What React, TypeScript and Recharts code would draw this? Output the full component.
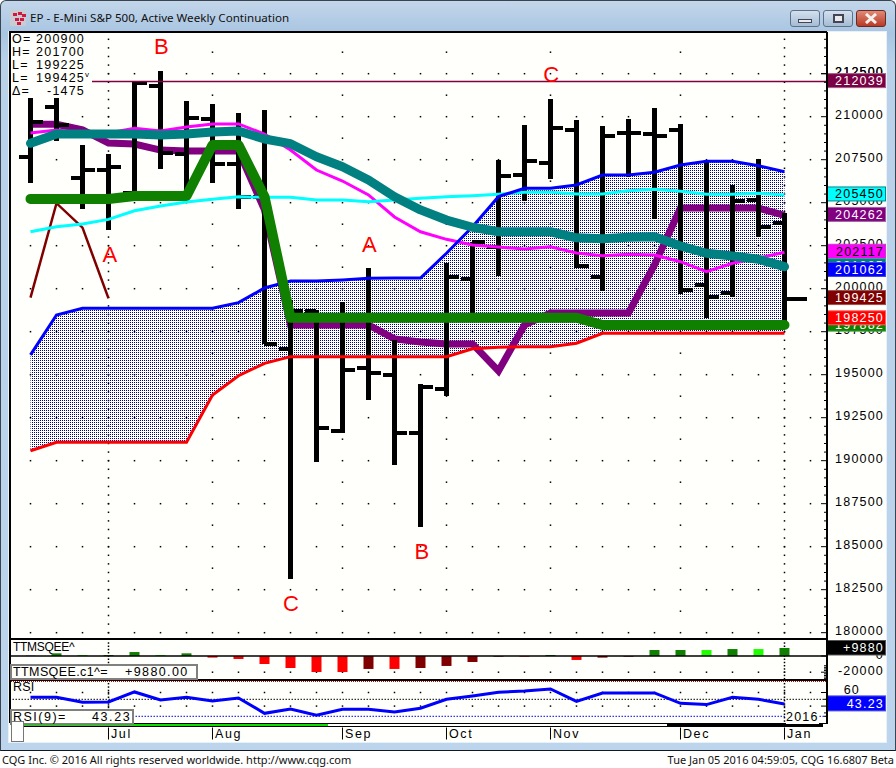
import React from 'react';
import { ComposedChart, Bar, Line, Area, Scatter, XAxis, YAxis, ReferenceLine, Cell } from 'recharts';

const indices = Array.from({ length: 30 }, (_, k) => k);
const highs = [211070,211070,208337,207832,212058,212657,210895,210720,210198,210390,199343,198762,199244,201186,197017,194442,201477,202715,207483,209517,211029,209808,209459,209866,210488,209576,207483,206029,207541,204384];
const lows = [206163,208605,204651,203413,205530,206977,205625,206163,204651,196785,183140,189942,191610,193529,189750,186163,193762,198587,200738,205099,206378,201186,199884,206512,204035,199674,198314,199535,203023,198081];
const opens = [207640,210547,206419,206884,205580,211767,207814,209849,207250,205330,196477,198703,191727,195372,194965,191593,194151,200546,202407,206610,207308,209227,200680,209035,208977,209227,200198,199732,205140,203802];
const closes = [209674,209535,206884,207058,211940,207872,209907,207250,205330,196785,198721,191884,195273,195081,191593,194302,200680,202698,206552,207407,209343,201320,208878,209035,208878,199924,199500,205099,203570,199425];

const purpleLine = [209560,209560,209230,208470,208410,208060,208010,208010,208010,204580,197890,197890,197890,197890,197080,196900,196790,196790,195215,197890,198590,198590,198590,198590,201380,204690,204690,204690,204690,204262];
const magentaLine = [209050,209230,209050,209050,209330,209170,209400,209580,209580,208990,208060,206900,206260,205450,204170,203310,202870,202540,202420,202310,202440,202080,201920,202000,201960,201570,200990,201480,201780,202117];
const tealLine = [208450,208990,208990,208990,208990,208940,208990,209110,209170,208700,208430,207670,207090,206320,205350,204580,203990,203570,203310,203310,203310,202960,202910,202990,203020,202480,202060,201900,201710,201280];
const cyanLine = [203310,203600,203760,204030,204530,204810,205040,205200,205350,205310,205310,205160,205160,205060,205160,205260,205350,205410,205490,205600,205600,205510,205510,205700,205780,205660,205490,205490,205550,205450];
const greenLine = [205220,205220,205220,205220,205390,205390,205390,208350,208350,205350,198310,198310,198310,198310,198310,198310,198310,198310,198310,198310,198310,198310,197890,197890,197890,197890,197890,197890,197890,197890];
const blueUpper = [196150,198470,198860,198860,198860,198860,198860,198860,199190,200040,200450,200450,200510,200600,200620,200620,202060,203600,205350,205840,205840,206030,206610,206610,206770,207190,207410,207410,207150,206800];
const redLower = [190580,191070,191070,191070,191070,191070,191070,193820,194940,195660,196050,196050,196050,196050,196050,196050,196050,196510,196590,196630,196630,196830,197410,197410,197410,197410,197410,197410,197410,197410];
const maroonWedge = [199480,204970,203550,199440];

const ttmValues = [300,3300,1200,1200,4900,1200,3300,-2000,-3700,-9900,-14800,-19800,-19800,-16000,-16000,-14800,-12300,-7400,-800,-800,1200,-4900,-2000,-800,7400,7400,7400,8600,8600,9880];
const ttmColors = ['#800000','#108000','#20ff00','#108000','#108000','#20ff00','#108000','#ff0000','#ff0000','#ff0000','#ff0000','#ff0000','#ff0000','#800000','#ff0000','#800000','#800000','#800000','#800000','#ff0000','#108000','#ff0000','#800000','#800000','#108000','#108000','#20ff00','#108000','#20ff00','#108000'];
const rsiValues = [52.9,52.9,45.6,46.1,60.8,49,52.9,47.5,52,29.4,35.8,26.5,35.3,35.3,31.4,36.8,50,54.9,60.3,62.3,65.2,47,59.3,59.3,59.3,44.1,42.2,52.9,50,43.23];

const priceLabels = [180000,182500,185000,187500,190000,192500,195000,197500,200000,202500,205000,207500,210000,212500];
const minorPriceTicks = Array.from({ length: 70 }, (_, k) => 180000 + k * 500);
const halfRows = [181250,183750,186250,188750,191250,193750,196250,198750,201250,203750,206250,208750,211250,213750];
const monthColumns = [7, 12, 16, 20, 25];
const fineColumns = [3, 29];
const gridColumns = Array.from({ length: 31 }, (_, k) => k);
const monthTicks = [3, 7, 12, 16, 20, 25, 29];
const monthLabels = ['Jul', 'Aug', 'Sep', 'Oct', 'Nov', 'Dec', 'Jan'];

const priceBoxes = [
  { v: 212039, bg: '#7b0044', fg: '#fff', bd: '#a0608a' },
  { v: 205450, bg: '#00ffff', fg: '#000', bd: '#008888' },
  { v: 204262, bg: '#800080', fg: '#fff', bd: '#a060a0' },
  { v: 202117, bg: '#ff00ff', fg: '#000', bd: '#c040c0' },
  { v: 201285, bg: '#008080', fg: '#fff', bd: '#40a0a0' },
  { v: 201062, bg: '#0000ff', fg: '#fff', bd: '#4040e0' },
  { v: 199425, bg: '#800000', fg: '#fff', bd: '#a05050' },
  { v: 197882, bg: '#108000', fg: '#fff', bd: '#40a040' },
  { v: 198250, bg: '#ff0000', fg: '#fff', bd: '#ff6060' },
];
const annotations = [
  { i: 5.03, v: 214110, label: 'B' },
  { i: 3.05, v: 202020, label: 'A' },
  { i: 13.03, v: 202600, label: 'A' },
  { i: 20.03, v: 212480, label: 'C' },
  { i: 15.05, v: 184750, label: 'B' },
  { i: 10.02, v: 181730, label: 'C' },
];
const ohlcLegend = [['O=', '200900'], ['H=', '201700'], ['L=', '199225'], ['L=', '199425'], ['\u0394=', '-1475']];

const rows = indices.map((i) => ({
  i,
  range: [lows[i], highs[i]],
  open: opens[i],
  close: closes[i],
  purple: purpleLine[i],
  magenta: magentaLine[i],
  teal: tealLine[i],
  cyan: cyanLine[i],
  green: greenLine[i],
  upper: blueUpper[i],
  lower: redLower[i],
  band: [redLower[i], blueUpper[i]],
  maroon: i < maroonWedge.length ? maroonWedge[i] : null,
  ttm: ttmValues[i],
  rsi: rsiValues[i],
}));

const gridDots: { i: number; v: number }[] = [];
gridColumns.forEach((i) => priceLabels.forEach((v) => gridDots.push({ i, v })));
monthColumns.forEach((i) => halfRows.forEach((v) => gridDots.push({ i, v })));
fineColumns.forEach((i) => {
  for (let k = 0; k < 70; k++) gridDots.push({ i, v: 180000 + k * 500 });
});
const ttmDots: { i: number; v: number }[] = [];
gridColumns.forEach((i) => ttmDots.push({ i, v: -20000 }));
fineColumns.forEach((i) => {
  for (let k = -7; k <= 4; k++) ttmDots.push({ i, v: k * 4000 });
});
const rsiDots: { i: number; v: number }[] = [];
gridColumns.forEach((i) => { rsiDots.push({ i, v: 60 }); rsiDots.push({ i, v: 40 }); });
fineColumns.forEach((i) => {
  for (let k = 0; k < 12; k++) rsiDots.push({ i, v: 18 + k * 5 });
});

const X_DOMAIN: [number, number] = [-0.75, 30.635];
const NUM_FONT = '"Liberation Sans", Arial, sans-serif';
const UI_FONT = '"Noto Sans", "Open Sans", sans-serif';
const PAPER = '#fffffb';
const LAST_INDEX = indices.length - 1;

const Dot = (p: any) => <rect x={p.cx - 0.75} y={p.cy - 0.75} width={1.5} height={1.5} fill="#000" />;
const AnnText = (p: any) => (
  <text x={p.cx} y={p.cy + 8} textAnchor="middle" fontFamily={NUM_FONT} fontSize={22} fill="#ff0000">
    {p.payload.label}
  </text>
);

const OhlcShape = (p: any) => {
  const { x, width, payload } = p;
  const top = Math.min(p.y, p.y + p.height);
  const h = Math.abs(p.height);
  const [lo, hi] = payload.range;
  const py = (v: number) => top + ((hi - v) / (hi - lo)) * h;
  const c = x + width / 2;
  const closeLen = payload.i === LAST_INDEX ? 22.5 : 13;
  return (
    <g fill="#000" shapeRendering="crispEdges">
      <rect x={c - 2.5} y={top} width={5} height={h} />
      <rect x={c - 11.5} y={py(payload.open) - 2} width={11.5} height={4} />
      <rect x={c} y={py(payload.close) - 2} width={closeLen} height={4} />
    </g>
  );
};

const numText = (x: number, y: number, s: string, fill = '#000') => (
  <text x={x} y={y} textAnchor="end" fontFamily={NUM_FONT} fontSize={12.5} letterSpacing={1.2} fill={fill}>
    {s}
  </text>
);

const PriceTick = (p: any) => {
  const v = p.payload.value;
  const x = p.x;
  const y = p.y;
  const box = priceBoxes.find((b) => b.v === v);
  if (box) {
    return (
      <g>
        <rect x={x + 0.5} y={y - 8} width={58} height={14} fill={box.bg} stroke={box.bd} />
        {numText(x + 57, y + 3.5, String(v), box.fg)}
      </g>
    );
  }
  const major = v % 2500 === 0;
  return (
    <g>
      <line x1={x - (major ? 6 : 3)} x2={x} y1={y} y2={y} stroke="#000" />
      {major ? numText(x + 57, y + 2.5, String(v)) : null}
    </g>
  );
};
const LeftTick = (p: any) => {
  const major = p.payload.value % 2500 === 0;
  return <line x1={p.x} x2={p.x + (major ? 5 : 3)} y1={p.y} y2={p.y} stroke="#000" />;
};
const TtmTick = (p: any) => {
  const v = p.payload.value;
  const { x, y } = p;
  if (v === 9880) {
    return (
      <g>
        <rect x={x + 0.5} y={y - 7.5} width={58} height={14.5} fill="#000" stroke="#555" />
        {numText(x + 57, y + 4, '+9880', '#fff')}
      </g>
    );
  }
  const major = v === 0 || v === -20000;
  return (
    <g>
      <line x1={x - (major ? 6 : 3)} x2={x} y1={y} y2={y} stroke="#000" />
      {major ? numText(x + 57, y + 3, v === 0 ? '0' : '-20000') : null}
    </g>
  );
};
const RsiTick = (p: any) => {
  const v = p.payload.value;
  const { x, y } = p;
  if (v === 43.23) {
    return (
      <g>
        <rect x={x + 0.5} y={y - 8} width={58} height={15} fill="#0000ff" stroke="#5050e0" />
        <text x={x + 57} y={y + 4} textAnchor="end" fontFamily={NUM_FONT} fontSize={12.5} letterSpacing={1.2} fill="#fff">43.23</text>
      </g>
    );
  }
  return (
    <g>
      <line x1={x - (v % 20 === 0 ? 6 : 3)} x2={x} y1={y} y2={y} stroke="#000" />
      {v === 60 ? numText(x + 33, y + 2, '60') : null}
    </g>
  );
};
const MonthTick = (p: any) => {
  const idx = monthTicks.indexOf(p.payload.value);
  return (
    <g>
      <line x1={p.x} x2={p.x} y1={p.y + 5} y2={p.y + 17} stroke="#000" />
      <text x={p.x + 2.5} y={p.y + 15.5} fontFamily={NUM_FONT} fontSize={12.5} letterSpacing={1.6} fill="#000">
        {monthLabels[idx]}
      </text>
    </g>
  );
};

const abs = (left: number, top: number, width: number, height: number, extra: any = {}) => ({
  position: 'absolute' as const, left, top, width, height, boxSizing: 'border-box' as const, ...extra,
});
const T = ({ x, y, s, size = 12.5, ls = 1.2, font = NUM_FONT, color = '#000', bg }: any) => (
  <span style={{ position: 'absolute', left: x, top: y, fontFamily: font, fontSize: size, letterSpacing: ls, lineHeight: '14px', whiteSpace: 'pre', color, background: bg }}>
    {s}
  </span>
);

export default function App() {
  const iconSquares = [[13, 13], [18, 12], [22, 14], [15, 18], [20, 18], [17, 22]];
  return (
    <div style={abs(0, 0, 896, 768, { background: '#ffffff', overflow: 'hidden' })}>
      {/* window frame */}
      <div style={abs(0, 0, 896, 751, { background: 'linear-gradient(#c3d6ea, #a8c5e2 32px, #b9d2ea 60px, #bcd5ec)', borderRadius: '6px 6px 0 0', border: '1px solid #3a4450', borderBottom: '1.5px solid #101820' })} />
      <div style={abs(8, 31, 879, 712, { background: PAPER, border: '1px solid #e8f0f8' })} />
      <div style={abs(10, 10, 16, 16, { background: '#c9ccd0' })} />
      {iconSquares.map(([l, t], k) => (
        <div key={k} style={abs(l, t, 4, 3, { background: '#d01840' })} />
      ))}
      <T x={30} y={11} s={'EP - E-Mini S&P 500, Active Weekly Continuation'} size={11.6} ls={0} font={UI_FONT} color="#111" />
      <div style={abs(790, 10, 30, 17, { background: 'linear-gradient(#d3e0ee, #a5bcd4)', border: '1px solid #5f7187', borderRadius: 3 })} />
      <div style={abs(798, 19, 14, 4, { background: '#e8eaec', border: '1px solid #445' })} />
      <div style={abs(823, 10, 30, 17, { background: 'linear-gradient(#d3e0ee, #a5bcd4)', border: '1px solid #5f7187', borderRadius: 3 })} />
      <div style={abs(833, 14, 11, 9, { background: '#e8eaec', border: '2px solid #445' })} />
      <div style={abs(856, 10, 30, 17, { background: 'linear-gradient(#e08a78, #b83a26)', border: '1px solid #6b2a20', borderRadius: 3 })} />
      <svg style={abs(864, 13, 14, 11)} viewBox="0 0 14 11">
        <path d="M2 1 L12 10 M12 1 L2 10" stroke="#f4f0ec" strokeWidth={3} />
      </svg>

      {/* main price panel */}
      <div style={abs(0, 0, 896, 640)}>
        <ComposedChart width={896} height={640} data={rows} margin={{ top: 32, right: 0, bottom: 2, left: 11 }}>
          <defs>
            <pattern id="cloudDots" patternUnits="userSpaceOnUse" x={0} y={0} width={2} height={2}>
              <rect x={0} y={0} width={1} height={1} fill="#000080" shapeRendering="crispEdges" />
            </pattern>
          </defs>
          <XAxis dataKey="i" type="number" domain={X_DOMAIN} allowDataOverflow hide />
          <YAxis orientation="right" width={69} domain={[179691, 214924]} allowDataOverflow
            ticks={[...minorPriceTicks, 212500, ...priceBoxes.map((b) => b.v)]}
            interval={0} tickLine={false} axisLine={false} tickSize={0} tickMargin={0} tick={PriceTick} />
          <YAxis yAxisId="L" orientation="left" width={0} domain={[179691, 214924]} allowDataOverflow
            ticks={minorPriceTicks} interval={0} tickLine={false} axisLine={false} tickSize={0} tickMargin={0} tick={LeftTick} />
          <Area dataKey="band" stroke="none" fill="url(#cloudDots)" fillOpacity={1} dot={false} activeDot={false} isAnimationActive={false} zIndex={40} />
          <Scatter data={gridDots} dataKey="v" shape={Dot} isAnimationActive={false} zIndex={50} />
          <Line dataKey="purple" stroke="#800080" strokeWidth={7} dot={false} isAnimationActive={false} zIndex={250} />
          <Bar dataKey="range" barSize={26} shape={OhlcShape} isAnimationActive={false} zIndex={300} />
          <Line dataKey="maroon" stroke="#800000" strokeWidth={2.5} dot={false} isAnimationActive={false} zIndex={400} />
          <Line dataKey="magenta" stroke="#ff00ff" strokeWidth={3} dot={false} isAnimationActive={false} zIndex={401} />
          <Line dataKey="cyan" stroke="#00ffff" strokeWidth={3} dot={false} isAnimationActive={false} zIndex={402} />
          <Line dataKey="upper" stroke="#0000ff" strokeWidth={3} dot={false} isAnimationActive={false} zIndex={403} />
          <Line dataKey="lower" stroke="#ff0000" strokeWidth={3} dot={false} isAnimationActive={false} zIndex={404} />
          <Line dataKey="teal" stroke="#008080" strokeWidth={9} strokeLinecap="round" strokeLinejoin="round" dot={false} isAnimationActive={false} zIndex={405} />
          <Line dataKey="green" stroke="#108000" strokeWidth={10} strokeLinecap="round" strokeLinejoin="round" dot={false} isAnimationActive={false} zIndex={406} />
          <ReferenceLine y={212039} stroke="#800040" strokeWidth={1.5} zIndex={460} />
          <Scatter data={annotations} dataKey="v" shape={AnnText} isAnimationActive={false} zIndex={470} />
        </ComposedChart>
      </div>

      {/* TTM squeeze panel */}
      <div style={abs(0, 640, 896, 40)}>
        <ComposedChart width={896} height={40} data={rows} margin={{ top: 0, right: 0, bottom: 0, left: 11 }}>
          <XAxis dataKey="i" type="number" domain={X_DOMAIN} allowDataOverflow hide />
          <YAxis orientation="right" width={69} domain={[-29630, 19750]} allowDataOverflow
            ticks={[-28000,-26000,-24000,-22000,-20000,-18000,-16000,-14000,-12000,0,9880]}
            interval={0} tickLine={false} axisLine={false} tickSize={0} tickMargin={0} tick={TtmTick} />
          <Scatter data={ttmDots} dataKey="v" shape={Dot} isAnimationActive={false} zIndex={50} />
          <Bar dataKey="ttm" barSize={10} isAnimationActive={false} zIndex={300}>
            {rows.map((r) => <Cell key={r.i} fill={ttmColors[r.i]} />)}
          </Bar>
          <ReferenceLine y={0} stroke="#000" strokeWidth={1.5} zIndex={400} />
        </ComposedChart>
      </div>

      {/* RSI panel and time axis */}
      <div style={abs(0, 682, 896, 63)}>
        <ComposedChart width={896} height={63} data={rows} margin={{ top: 0, right: 0, bottom: 0, left: 11 }}>
          <XAxis dataKey="i" type="number" domain={X_DOMAIN} allowDataOverflow height={22.5} ticks={monthTicks}
            interval={0} tickLine={false} axisLine={false} tickSize={0} tickMargin={0} tick={MonthTick} />
          <YAxis orientation="right" width={69} domain={[15.88, 75.44]} allowDataOverflow
            ticks={[25, 30, 40, 60, 50, 43.23]} interval={0} tickLine={false} axisLine={false} tickSize={0} tickMargin={0} tick={RsiTick} />
          <Scatter data={rsiDots} dataKey="v" shape={Dot} isAnimationActive={false} zIndex={50} />
          <ReferenceLine y={50} stroke="#000" strokeDasharray="1.5 1.5" zIndex={60} />
          <ReferenceLine y={25} stroke="#0000ff" strokeDasharray="1.5 1.5" zIndex={60} />
          <Line dataKey="rsi" stroke="#0000ff" strokeWidth={3} dot={false} isAnimationActive={false} zIndex={400} />
        </ComposedChart>
      </div>

      {/* panel borders */}
      <div style={abs(9, 31, 2, 692, { background: '#000' })} />
      <div style={abs(10, 31, 817, 2, { background: '#000' })} />
      <div style={abs(826, 32, 1.5, 692, { background: '#000' })} />
      <div style={abs(10, 638, 817, 2, { background: '#000' })} />
      <div style={abs(10, 679, 817, 2, { background: '#000' })} />
      <div style={{ ...abs(11, 681, 815, 1), borderTop: '1px dotted #cc0000' }} />
      <div style={abs(10, 723, 817, 1, { background: '#000' })} />
      <div style={abs(24, 724, 304, 2, { background: '#10e000' })} />
      <div style={abs(667, 724, 156, 3, { background: '#000' })} />
      <div style={abs(24, 726, 643, 1, { background: '#000' })} />

      {/* overlays */}
      <div style={abs(11, 33, 81, 64, { background: PAPER })} />
      {ohlcLegend.map(([k, v], n) => (
        <React.Fragment key={n}>
          <T x={12} y={32 + n * 13} s={k} />
          <span style={{ position: 'absolute', right: 896 - 85, top: 32 + n * 13, fontFamily: NUM_FONT, fontSize: 12.5, letterSpacing: 1.2, lineHeight: '14px', whiteSpace: 'pre' }}>{v}</span>
        </React.Fragment>
      ))}
      <T x={85} y={68} s="v" size={8} ls={0} />
      <T x={13} y={640} s="TTMSQEE^" size={12} ls={-0.3} />
      <div style={abs(10, 664, 188, 16, { background: PAPER, border: '2px solid #808080' })} />
      <T x={13} y={665} s="TTMSQEE.c1^=" ls={0.4} />
      <T x={125} y={665} s="+9880.00" ls={1.4} />
      <T x={13} y={680} s="RSI" ls={0.2} />
      <div style={abs(10, 709, 124, 16, { background: PAPER, border: '2px solid #808080' })} />
      <T x={13} y={710} s="RSI(9)=" ls={1.5} />
      <T x={92} y={710} s="43.23" ls={1.6} />
      <T x={786} y={710} s="2016" ls={1.2} bg={PAPER} />
      <div style={abs(11, 721, 13, 21, { background: '#fff', border: '1.5px solid #777' })} />

      {/* status bar */}
      <T x={2} y={753} s={'CQG Inc. \u00a9 2016 All rights reserved worldwide. http://www.cqg.com'} size={11} ls={0} font={UI_FONT} color="#111" />
      <span style={{ position: 'absolute', right: 2, top: 753, fontFamily: UI_FONT, fontSize: 11, lineHeight: '14px', whiteSpace: 'pre', color: '#111' }}>
        Tue Jan 05 2016 04:59:05, CQG 16.6807 Beta
      </span>
    </div>
  );
}
